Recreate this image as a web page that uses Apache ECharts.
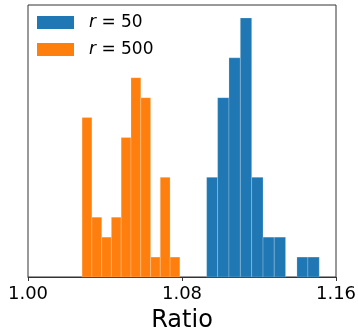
<!DOCTYPE html>
<html>
<head>
<meta charset="utf-8">
<script src="https://cdn.jsdelivr.net/npm/echarts@6/dist/echarts.min.js"></script>
<style>
  html, body { margin: 0; padding: 0; background: #fff; }
  #chart { width: 358px; height: 332px; }
</style>
</head>
<body>
<div id="chart"></div>
<script>
// histogram bin edges (Ratio) and counts per bin
const r500Edges = [1.0281, 1.0332, 1.0383, 1.0433, 1.0484, 1.0535, 1.0586, 1.0637, 1.0687, 1.0738, 1.0789];
const r500Counts = [8, 3, 2, 3, 7, 10, 9, 1, 5, 1];
const r50Edges = [1.0928, 1.0985, 1.1044, 1.1103, 1.1162, 1.1221, 1.1279, 1.1338, 1.1397, 1.1454, 1.1513];
const r50Counts = [5, 9, 11, 13, 5, 2, 2, 0, 1, 1];
const xTicks = [1.00, 1.08, 1.16];

const FONT = '"DejaVu Sans", sans-serif';
const C_R50 = '#1f77b4';
const C_R500 = '#ff7f0e';

function bins(edges, counts) {
  return counts.map((c, i) => [edges[i], edges[i + 1], c]);
}

function renderBin(params, api) {
  const h = api.value(2);
  if (!h) return null;
  const p0 = api.coord([api.value(0), h]);
  const p1 = api.coord([api.value(1), 0]);
  return {
    type: 'rect',
    shape: { x: p0[0], y: p0[1], width: p1[0] - p0[0], height: p1[1] - p0[1] },
    style: { fill: api.visual('color'), stroke: 'rgba(255,255,255,0.35)', lineWidth: 0.6 },
  };
}

const chart = echarts.init(document.getElementById('chart'), null, { renderer: 'canvas' });
chart.setOption({
  animation: false,
  backgroundColor: '#fff',
  grid: {
    left: 28, right: 22, top: 5, bottom: 55,
    outerBoundsMode: 'none', containLabel: false,
    show: true, borderColor: '#333', borderWidth: 1,
  },
  legend: {
    orient: 'vertical',
    left: 37,
    top: 14,
    padding: 0,
    itemWidth: 37,
    itemHeight: 13,
    itemGap: 10,
    icon: 'rect',
    textStyle: {
      fontFamily: FONT, fontSize: 17, lineHeight: 17, color: '#000', padding: [0, 0, 0, 10],
      rich: { i: { fontStyle: 'italic', fontFamily: FONT, fontSize: 17, lineHeight: 17, color: '#000' } },
    },
    formatter: name => name === 'r50' ? '{i|r} = 50' : '{i|r} = 500',
    data: ['r50', 'r500'],
  },
  xAxis: {
    type: 'value',
    min: 1.0,
    max: 1.16,
    interval: 0.08,
    name: 'Ratio',
    nameLocation: 'middle',
    nameGap: 32,
    nameTextStyle: { fontFamily: FONT, fontSize: 24, color: '#000' },
    axisLine: { show: true, onZero: false, lineStyle: { color: '#333', width: 1 } },
    axisTick: { show: true, length: 4, lineStyle: { color: '#333' } },
    axisLabel: {
      fontFamily: FONT, fontSize: 18, color: '#000', margin: 8,
      formatter: v => xTicks.some(t => Math.abs(t - v) < 1e-9) ? v.toFixed(2) : '',
    },
    splitLine: { show: false },
  },
  yAxis: {
    type: 'value',
    min: 0,
    max: 13.65,
    axisLine: { show: false },
    axisTick: { show: false },
    axisLabel: { show: false },
    splitLine: { show: false },
  },
  series: [
    {
      name: 'r50', type: 'custom', renderItem: renderBin, color: C_R50,
      encode: { x: [0, 1], y: 2 }, data: bins(r50Edges, r50Counts),
    },
    {
      name: 'r500', type: 'custom', renderItem: renderBin, color: C_R500,
      encode: { x: [0, 1], y: 2 }, data: bins(r500Edges, r500Counts),
    },
  ],
});
</script>
</body>
</html>
